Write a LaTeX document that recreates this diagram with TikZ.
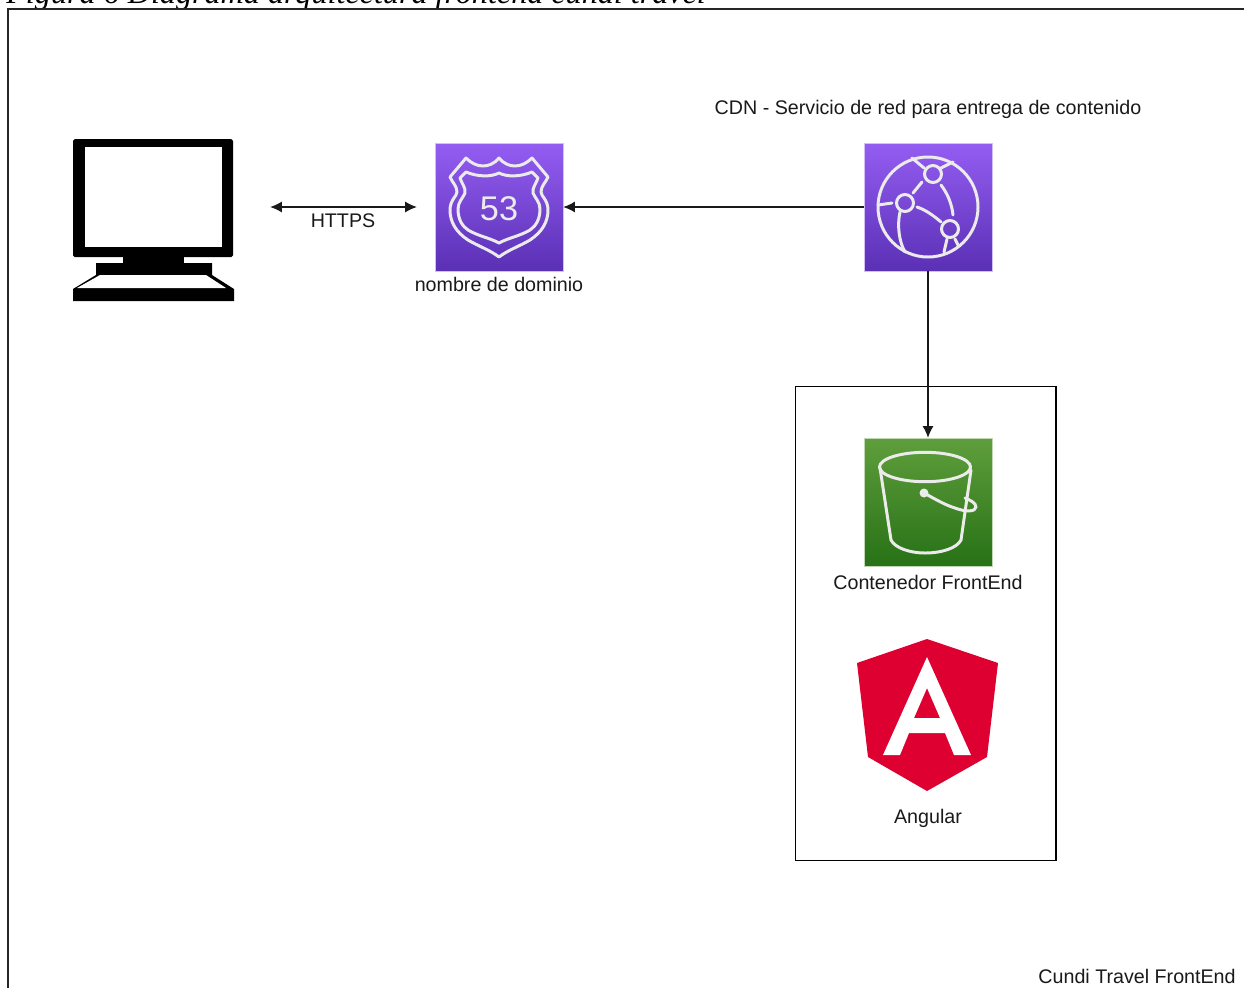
\documentclass[tikz,border=0pt]{standalone}
\usepackage{fontspec}
\setmainfont{Liberation Sans}
\newfontfamily\captionserif{Liberation Serif}
\usepackage{xcolor}
\usetikzlibrary{calc, arrows.meta}
\tikzset{>={Latex[length=6.6pt,width=6.2pt]}}
\definecolor{routetop}{HTML}{945DF2}
\definecolor{routebot}{HTML}{5A30B5}
\definecolor{buckettop}{HTML}{5F9E3C}
\definecolor{bucketbot}{HTML}{277116}
\definecolor{angularred}{HTML}{DD0031}
\definecolor{labelgray}{HTML}{1A1A1A}
\tikzset{
  awsbox/.style={minimum size=2.56cm, inner sep=0pt, draw=white!60!#1, line width=0.3pt},
  purplebox/.style={awsbox=routetop, top color=routetop, bottom color=routebot},
  greenbox/.style={awsbox=buckettop, top color=buckettop, bottom color=bucketbot},
  glyph/.style={draw=white!92!black, line width=1.7pt, line join=round, line cap=round},
  label/.style={font=\fontsize{11.2}{13}\selectfont, text=labelgray, inner sep=0pt},
  conn/.style={black!90, line width=0.65pt}
}

\begin{document}
\begin{tikzpicture}[x=0.02cm, y=-0.02cm]
\useasboundingbox (0,0) rectangle (1244,988);
\clip (0,0) rectangle (1244,988);
\fill[white] (0,0) rectangle (1244,988);
% caption cut by the page top, and the outer frame
\node[anchor=base west, inner sep=0pt, font=\captionserif\itshape\fontsize{18.3}{20}\selectfont] (caption) at (6,3) {Figura 6 Diagrama arquitectura frontend cundi travel};
\draw[line width=0.8pt, black!85] (8,988) -- (8,9) -- (1244,9);
% container
\node[draw, line width=0.6pt, minimum width=5.22cm, minimum height=9.5cm, inner sep=0pt] (container) at (925.5,623.5) {};
% computer
\node[minimum width=3.22cm, minimum height=3.22cm, inner sep=0pt] (pc) at (153.5,219.5) {};
\fill[black, rounded corners=1pt] (73,139) rectangle (233,257);
\fill[white] (85,147) rectangle (222,247);
\fill[black] (123,257) rectangle (184,264);
\fill[black] (96,263) rectangle (212,275) -- (96,275) -- (73,289) -- (73,301) -- (234,301) -- (234,289) -- (212,275) -- cycle;
\fill[white] (100,275) -- (206,275) -- (226,288) -- (77,288) -- cycle;
% route 53
\node[purplebox] (route) at (499,207) {};
\draw[glyph] (499,158) .. controls (504,164) and (510,166) .. (515,166) .. controls (521,166) and (527,163) .. (532,158) -- (548,177) .. controls (546,182) and (541,186) .. (541,192) .. controls (541,196) and (548,200) .. (548,210) .. controls (548,222) and (542,232) .. (530,240) .. controls (520,246) and (508,250) .. (499,257) .. controls (490,250) and (478,246) .. (468,240) .. controls (456,232) and (450,222) .. (450,210) .. controls (450,200) and (457,196) .. (457,192) .. controls (457,186) and (452,182) .. (450,177) -- (466,158) .. controls (471,163) and (477,166) .. (483,166) .. controls (488,166) and (494,164) .. (499,158) -- cycle;
\draw[glyph] (499,173) .. controls (507,177) and (520,177) .. (532,172) -- (538,178) .. controls (536,184) and (532,188) .. (533,193) .. controls (535,198) and (540,202) .. (540,209) .. controls (540,219) and (536,226) .. (530,230) .. controls (520,236) and (508,238) .. (499,243) .. controls (490,238) and (478,236) .. (468,230) .. controls (462,226) and (458,219) .. (458,209) .. controls (458,202) and (463,198) .. (465,193) .. controls (466,188) and (462,184) .. (460,178) -- (466,172) .. controls (478,177) and (491,177) .. (499,173) -- cycle;
\node[font=\fontsize{19.5}{20}\selectfont, text=white!92!black, inner sep=0pt] (fiftythree) at (499,208.5) {53};
\node[label] (routelabel) at (499,284) {nombre de dominio};
% cdn
\node[purplebox] (cdn) at (928,207) {};
\draw[glyph] (928,207) circle (50);
\draw[glyph] (933,174) circle (8.5);
\draw[glyph] (905,203) circle (8.5);
\draw[glyph] (950,229) circle (8.5);
\draw[glyph] (913,193) -- (922,182);
\draw[glyph] (917,207) .. controls (926,210) and (934,216) .. (941,222);
\draw[glyph] (941,185) .. controls (948,194) and (952,205) .. (953,215);
\draw[glyph] (900,212) .. controls (897,225) and (899,242) .. (905,252);
\draw[glyph] (878,205) -- (892,203);
\draw[glyph] (912,158) -- (924,168);
\draw[glyph] (941,168) -- (953,162);
\draw[glyph] (947,239) -- (944,252);
\draw[glyph] (955,239) -- (958,245);
\node[label, anchor=base] (cdnlabel) at (928,114) {CDN - Servicio de red para entrega de contenido};
% bucket
\node[greenbox] (bucket) at (928,502) {};
\draw[glyph] (925,467) ellipse (45.5 and 14.7);
\draw[glyph] (880,468) -- (891,540) .. controls (895,548) and (910,553) .. (925,553) .. controls (942,553) and (957,548) .. (961,540) -- (971,470);
\fill[white!92!black] (924,493) circle (4.5);
\draw[glyph] (924,493) .. controls (935,499) and (945,505) .. (955,508) .. controls (965,512) and (976,512) .. (976,507) .. controls (976,503) and (970,500) .. (965,498);
\node[label] (bucketlabel) at (928,582) {Contenedor FrontEnd};
% angular
\node[minimum width=2.82cm, minimum height=3.04cm, inner sep=0pt] (angular) at (927.5,715) {};
\fill[angularred] (927,639) -- (998,663) -- (987,757) -- (927,791) -- (868,757) -- (857,663) -- cycle;
\fill[white, even odd rule] (927,657) -- (971,755) -- (954,755) -- (945,733) -- (909,733) -- (900,755) -- (883,755) -- cycle (927,688) -- (940,718) -- (914,718) -- cycle;
\node[label] (angularlabel) at (928,818) {Angular};
\node[label, anchor=east] (systemlabel) at (1236,976) {Cundi Travel FrontEnd};
% connectors
\draw[conn, <->, shorten <=20.4pt, shorten >=10.2pt] (pc.east |- route.west) -- (route.west);
\node[label] (https) at (343,220.5) {HTTPS};
\draw[conn, ->] (cdn.west) -- (route.east);
\draw[conn, ->] (cdn.south) -- (bucket.north);
\end{tikzpicture}
\end{document}
